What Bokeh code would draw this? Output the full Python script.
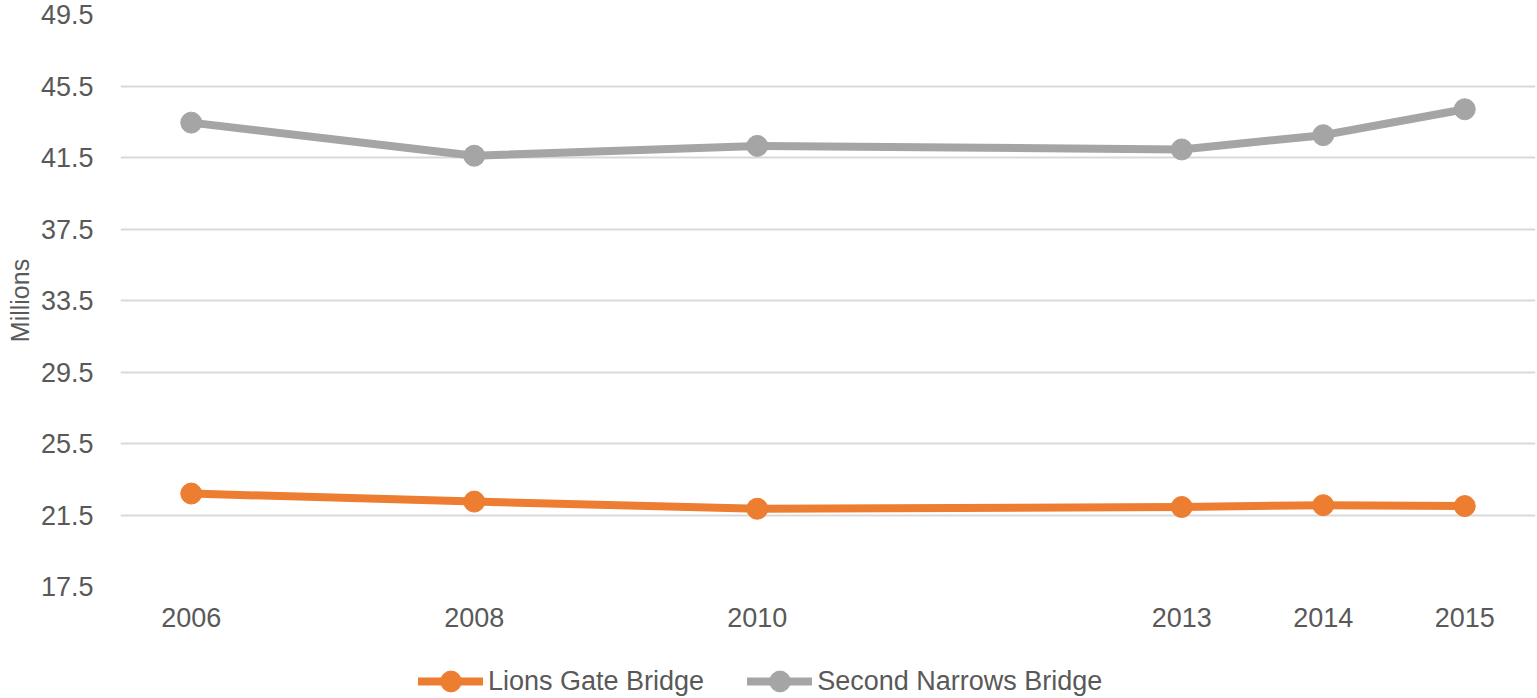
from bokeh.plotting import figure
from bokeh.layouts import column
from bokeh.models import FixedTicker, PrintfTickFormatter, Legend, LegendItem, Range1d
from bokeh.embed import file_html
from bokeh.resources import INLINE

years = [2006, 2008, 2010, 2013, 2014, 2015]
lions_gate = [22.7, 22.25, 21.85, 21.95, 22.05, 22.0]
second_narrows = [43.45, 41.6, 42.15, 41.95, 42.75, 44.2]
y_ticks = [17.5, 21.5, 25.5, 29.5, 33.5, 37.5, 41.5, 45.5, 49.5]
series_names = ["Lions Gate Bridge", "Second Narrows Bridge"]

ORANGE = "#ED7D31"
GREY = "#A5A5A5"
TEXT = "#595959"
FONT = "Liberation Sans"
LW = 8
MS = 21

p = figure(width=1537, height=640, output_backend="svg", toolbar_location=None,
           x_range=Range1d(2005.5, 2015.5), y_range=Range1d(17.5, 49.5),
           min_border_left=120, min_border_right=2, min_border_top=14, min_border_bottom=54)
p.outline_line_color = None
p.background_fill_color = "white"
p.border_fill_color = "white"

p.xgrid.grid_line_color = None
p.ygrid.grid_line_color = "#D9D9D9"
p.ygrid.grid_line_width = 2

p.xaxis.ticker = FixedTicker(ticks=years)
p.yaxis.ticker = FixedTicker(ticks=y_ticks)
p.yaxis.formatter = PrintfTickFormatter(format="%.1f")
for ax in (p.xaxis[0], p.yaxis[0]):
    ax.axis_line_color = None
    ax.major_tick_line_color = None
    ax.minor_tick_line_color = None
    ax.major_tick_in = 0
    ax.major_tick_out = 0
    ax.major_label_text_font = FONT
    ax.major_label_text_font_size = "27px"
    ax.major_label_text_color = TEXT
p.xaxis.major_label_standoff = 21
p.yaxis.major_label_standoff = 27
p.yaxis.axis_label = "Millions"
p.yaxis.axis_label_text_font = FONT
p.yaxis.axis_label_text_font_size = "25px"
p.yaxis.axis_label_text_font_style = "normal"
p.yaxis.axis_label_text_color = TEXT
p.yaxis.axis_label_standoff = 4

p.line(years, lions_gate, line_color=ORANGE, line_width=LW, line_join="round")
p.scatter(years, lions_gate, size=MS, fill_color=ORANGE, line_color=ORANGE)
p.line(years, second_narrows, line_color=GREY, line_width=LW, line_join="round")
p.scatter(years, second_narrows, size=MS, fill_color=GREY, line_color=GREY)

# legend strip below the chart (its own renderers lie outside its view, only the legend shows)
lg = figure(width=1537, height=58, output_backend="svg", toolbar_location=None,
            x_range=Range1d(0, 1), y_range=Range1d(0, 1),
            min_border_left=0, min_border_right=0, min_border_top=0, min_border_bottom=0)
lg.axis.visible = False
lg.grid.visible = False
lg.outline_line_color = None
lg.background_fill_color = "white"
lg.border_fill_color = "white"

items = []
for name, col, vals in zip(series_names, [ORANGE, GREY], [lions_gate, second_narrows]):
    r1 = lg.line(x=years, y=vals, line_color=col, line_width=LW, line_cap="round")
    r2 = lg.scatter(x=years, y=vals, size=MS, fill_color=col, line_color=col)
    items.append(LegendItem(label=name, renderers=[r1, r2]))

legend = Legend(items=items, orientation="horizontal", location=(298, -9),
                label_text_font=FONT, label_text_font_size="27px", label_text_color=TEXT,
                glyph_width=65, glyph_height=52, spacing=43, label_standoff=5,
                border_line_color=None, background_fill_alpha=0, padding=0, margin=0)
lg.add_layout(legend, "center")

open("out.html", "w").write(file_html(column(p, lg, spacing=0), INLINE))
